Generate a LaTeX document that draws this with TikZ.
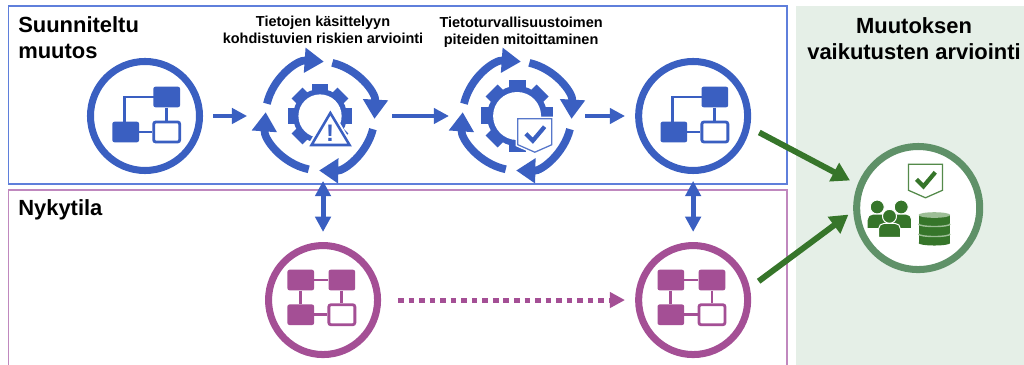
\documentclass[tikz,border=0pt]{standalone}
\usepackage{fontspec}
\setmainfont{Liberation Sans}
\usepackage{tikz}
\usetikzlibrary{arrows.meta}
\definecolor{PLAN}{HTML}{3A5FC1}
\definecolor{PLANLINE}{HTML}{5F7FDB}
\definecolor{NOW}{HTML}{A44F95}
\definecolor{NOWLINE}{HTML}{C088BE}
\definecolor{EVAL}{HTML}{36752A}
\definecolor{EVALRING}{HTML}{5F9168}
\definecolor{EVALLIGHT}{HTML}{9DBE96}
\definecolor{PANEL}{HTML}{E5EFE7}
\tikzstyle{px} = [x=0.025cm, y=0.025cm]
\tikzstyle{ring} = [circle, minimum size=2.725cm, outer sep=0.34cm, inner sep=0pt, line width=5pt]
\tikzstyle{planring} = [ring, draw=PLAN, fill=white]
\tikzstyle{nowring} = [ring, draw=NOW, fill=white]
\tikzstyle{evalring} = [ring, minimum size=3.075cm, outer sep=0.3cm, draw=EVALRING, fill=white]
\tikzstyle{cyclering} = [ring]
\tikzstyle{bigtitle} = [font=\fontsize{15.6}{18.5}\selectfont\bfseries, align=left, inner sep=0pt]
\tikzstyle{steptitle} = [font=\fontsize{10.3}{12.1}\selectfont\bfseries, align=center, inner sep=0pt]
\tikzstyle{solidbox} = [rectangle, rounded corners=1.5pt, minimum width=0.667cm, minimum height=0.515cm, inner sep=0pt]
\tikzstyle{openbox} = [solidbox, fill=white, minimum width=0.65cm, minimum height=0.5cm, line width=2pt]
\tikzstyle{arrow} = [line width=3.5pt, -{Triangle[length=0.38cm, width=0.38cm]}]
\tikzstyle{bothways} = [line width=3.5pt, {Triangle[length=0.38cm, width=0.38cm]}-{Triangle[length=0.38cm, width=0.38cm]}]
\tikzstyle{evalarrow} = [line width=4.2pt, draw=EVAL, -{Triangle[length=0.45cm, width=0.5cm]}]
\tikzset{
  pics/flowthree/.style={code={
    \begin{scope}[px, #1]
    \draw [line width=2pt] (-19.3,-16) ++(-1,0) |- (21.7,19);
    \node (-a) [solidbox, fill=#1] at (-19.3,-16) {};
    \node (-b) [solidbox, fill=#1] at (21.7,19) {};
    \node (-c) [openbox, draw=#1] at (21.7,-16) {};
    \draw [line width=2pt] (-a) -- (-c);
    \draw [line width=2pt] (-b) -- (-c);
    \end{scope}
  }},
  pics/flowfour/.style={code={
    \begin{scope}[px, #1]
    \node (-a) [solidbox, fill=#1] at (-22.3,20) {};
    \node (-b) [solidbox, fill=#1] at (18.8,20) {};
    \node (-c) [solidbox, fill=#1] at (-22.3,-14.7) {};
    \node (-d) [openbox, draw=#1] at (18.8,-14.7) {};
    \draw [line width=2pt] (-a) -- (-b);
    \draw [line width=2pt] (-a) -- (-c);
    \draw [line width=2pt] (-b) -- (-d);
    \draw [line width=2pt] (-c) -- (-d);
    \end{scope}
  }},
  pics/gearcycle/.style={code={
    \begin{scope}[px]
    \foreach \s/\e in {167/86, 77/-3, -14/-91, -102/-184}
      \draw [PLAN, line width=5.5pt, -{Triangle[length=0.48cm, width=0.6cm]}]
        (\s:54.5) arc [start angle=\s, end angle=\e, radius=54.5];
    \begin{scope}[scale=#1]
    \foreach \a in {0,45,...,315}
      \fill [PLAN, rotate=\a] (-8.5,27) rectangle (8.5,36);
    \fill [PLAN] (0,0) circle (30);
    \fill [white] (0,0) circle (24);
    \end{scope}
    \end{scope}
  }},
  pics/shieldmark/.style={code={
    \begin{scope}[px]
    \draw [white, fill=white, line width=3pt] (0,0) -- (34,0) -- (34,-26) -- (17,-33.5) -- (0,-26) -- cycle;
    \draw [#1!85!white, fill=white, line width=0.9pt] (0,0) -- (34,0) -- (34,-26) -- (17,-33.5) -- (0,-26) -- cycle;
    \draw [#1, line width=3pt] (8,-15) -- (15,-22) -- (26.8,-8);
    \end{scope}
  }},
  pics/alertmark/.style={code={
    \begin{scope}[px]
    \draw [white, line width=4.5pt, fill=white] (10.3,3) -- (-8.5,-29) -- (29.5,-29) -- cycle;
    \draw [PLAN, line width=1.8pt, fill=white] (10.3,3) -- (-8.5,-29) -- (29.5,-29) -- cycle;
    \node (-sign) [PLAN, font=\fontsize{17}{17}\selectfont\bfseries, inner sep=0pt] at (10,-17) {!};
    \end{scope}
  }},
  pics/people/.style={code={
    \begin{scope}[px]
    \foreach \x/\y/\w/\b in {-41/1/10/21.5, -17/1/10.5/21.5, -28.7/-8.3/11/21} {
      \filldraw [EVAL, draw=white, line width=0.7pt] (\x,\y) circle (7);
      \filldraw [EVAL, draw=white, line width=0.7pt] (\x-\w,\y-\b) [rounded corners=4pt] -- (\x-\w,\y-7) -- (\x+\w,\y-7) [sharp corners] -- (\x+\w,\y-\b) -- cycle;
    }
    \end{scope}
  }},
  pics/database/.style={code={
    \begin{scope}[px]
    \fill [EVAL] (0.3,-7) rectangle (32,-35);
    \fill [EVAL] (16.15,-35) ellipse (15.85 and 2.5);
    \fill [EVALLIGHT] (16.15,-7) ellipse (15.85 and 2.8);
    \draw [EVALLIGHT, line width=1pt] (0.3,-16) arc [start angle=180, end angle=360, x radius=15.85, y radius=2.5];
    \draw [EVALLIGHT, line width=1pt] (0.3,-26) arc [start angle=180, end angle=360, x radius=15.85, y radius=2.5];
    \end{scope}
  }}
}

\begin{document}
\begin{tikzpicture}[node distance=2cm]

\path [use as bounding box, px] (-145,116) rectangle (879,-249);

% backgrounds
\fill [PANEL, px] (651,110) rectangle (879,-249);
\draw [PLANLINE, line width=0.8pt, px] (-136.5,110) rectangle (642,-68);
\draw [NOWLINE, line width=0.8pt, px] (-136.5,-249) |- (642,-74) -- (642,-249);

% upper row
\node (cur1) [planring] {};
\node (risk) [cyclering, right of=cur1, xshift=2.375cm] {};
\node (sec) [cyclering, right of=risk, xshift=2.925cm] {};
\node (plan) [planring, right of=sec, xshift=2.4cm] {};

% lower row
\node (now2) [nowring, below of=plan, yshift=-2.6cm] {};
\node (now1) [nowring, left of=now2, xshift=-7.25cm] {};

\node (eval) [evalring, right of=plan, xshift=3.625cm, yshift=-2.3cm] {};

% icons
\pic (icon1) at (cur1) {flowthree=PLAN};
\pic (icon2) at (plan) {flowthree=PLAN};
\pic (icon3) at (now1) {flowfour=NOW};
\pic (icon4) at (now2) {flowfour=NOW};
\pic (gear1) at (risk) {gearcycle=0.9};
\pic (gear2) at (sec) {gearcycle=1};
\pic (alert) at (risk) {alertmark};
\pic (shield1) [xshift=0.018cm, yshift=-0.068cm] at (sec) {shieldmark=PLAN};
\pic (shield2) [xshift=-0.243cm, yshift=1.093cm] at (eval) {shieldmark=EVAL};
\pic (crowd) at (eval) {people};
\pic (store) at (eval) {database};

% titles
\node (title1) [bigtitle, px, anchor=west] at (-127,78) {Suunniteltu\\muutos};
\node (title2) [bigtitle, px, anchor=west] at (-127,-94) {Nykytila};
\node (title3) [bigtitle, align=center, px] at (769,77) {Muutoksen\\vaikutusten arviointi};
\node (step1) [steptitle, above of=risk, xshift=0.075cm, yshift=0.16cm] {Tietojen käsittelyyn\\kohdistuvien riskien arviointi};
\node (step2) [steptitle, above of=sec, xshift=0.1cm, yshift=0.085cm] {Tietoturvallisuustoimen\\piteiden mitoittaminen};

% connectors
\draw [arrow, PLAN, shorten >=0.12cm] (cur1) -- (risk);
\draw [arrow, PLAN, shorten <=0.1cm] (risk) -- (sec);
\draw [arrow, PLAN] (sec) -- (plan);
\draw [bothways, PLAN, shorten >=-0.08cm] (now1) -- (risk.south -| now1);
\draw [bothways, PLAN, shorten >=-0.08cm] (now2) -- (plan);
\draw [arrow, NOW, dash pattern=on 4pt off 3.5pt, shorten <=0.17cm] (now1) -- (now2);
\draw [evalarrow] (plan.-14) -- (eval.158);
\draw [evalarrow, shorten >=-0.1cm] (now2.16) -- (eval.187);

\end{tikzpicture}
\end{document}
